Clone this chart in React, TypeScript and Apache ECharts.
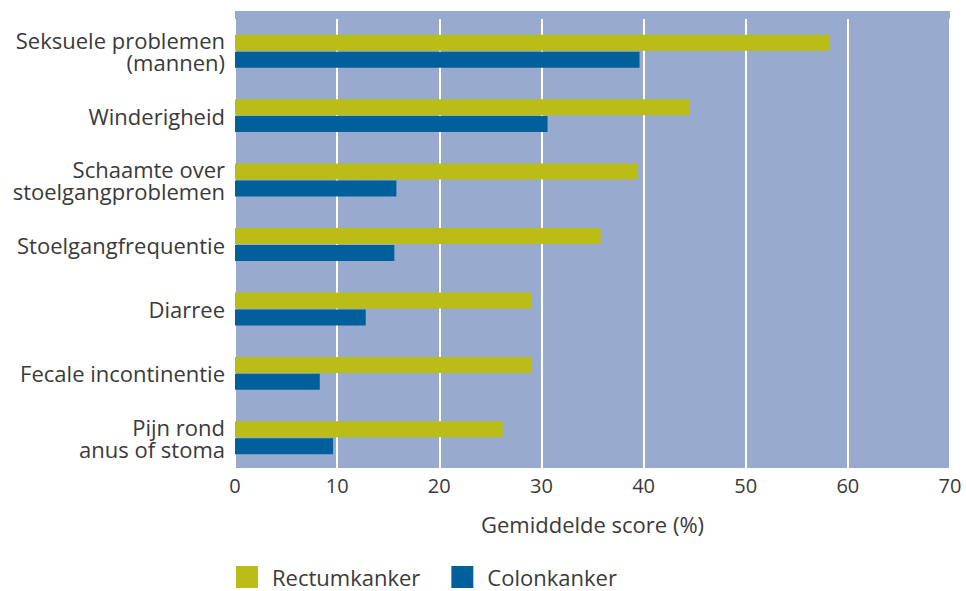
import React, { useEffect, useRef } from "react";
import * as echarts from "echarts";

const categories = [
  "Seksuele problemen\n(mannen)",
  "Winderigheid",
  "Schaamte over\nstoelgangproblemen",
  "Stoelgangfrequentie",
  "Diarree",
  "Fecale incontinentie",
  "Pijn rond\nanus of stoma",
];
const rectumValues = [58.2, 44.5, 39.4, 35.8, 29.0, 29.0, 26.2];
const colonValues = [39.6, 30.6, 15.8, 15.6, 12.8, 8.3, 9.6];
const xTicks = [0, 10, 20, 30, 40, 50, 60, 70];
const seriesNames = ["Rectumkanker", "Colonkanker"];

const FONT = "'Open Sans', 'Noto Sans', sans-serif";
const TEXT = "#3a3a3a";

export default function App() {
  const ref = useRef<HTMLDivElement>(null);
  useEffect(() => {
    if (!ref.current) return;
    const chart = echarts.init(ref.current, undefined, { renderer: "svg" });
    chart.setOption({
      animation: false,
      backgroundColor: "#ffffff",
      graphic: [
        {
          type: "rect",
          z: -10,
          silent: true,
          shape: { x: 235, y: 11, width: 715, height: 457 },
          style: { fill: "#99AACF" },
        },
      ],
      grid: { left: 235, right: 16, top: 19, bottom: 121, containLabel: false },
      legend: {
        left: 236,
        top: 566,
        padding: 0,
        itemWidth: 22,
        itemHeight: 22,
        itemGap: 31,
        icon: "rect",
        textStyle: { fontFamily: FONT, fontSize: 22, lineHeight: 22, color: TEXT, padding: [0, 0, 0, 9] },
        data: seriesNames,
      },
      xAxis: {
        type: "value",
        min: 0,
        max: 70,
        interval: 10,
        name: "Gemiddelde score (%)",
        nameLocation: "middle",
        nameGap: 43,
        nameTextStyle: { fontFamily: FONT, fontSize: 22, color: TEXT },
        axisLine: { show: false },
        axisTick: { show: false },
        axisLabel: {
          fontFamily: FONT,
          fontSize: 20,
          color: TEXT,
          margin: 5,
          formatter: (v: number) => (xTicks.includes(v) ? String(v) : ""),
        },
        splitLine: { show: true, lineStyle: { color: "#ffffff", width: 2 } },
      },
      yAxis: {
        type: "category",
        inverse: true,
        data: categories,
        axisLine: { show: false },
        axisTick: { show: false },
        axisLabel: {
          fontFamily: FONT,
          fontSize: 22,
          color: TEXT,
          margin: 10,
          lineHeight: 22,
          align: "right",
        },
        splitLine: { show: false },
      },
      series: [
        {
          name: seriesNames[0],
          type: "bar",
          data: rectumValues,
          barWidth: 16,
          barGap: "6%",
          itemStyle: { color: "#B9BD16" },
        },
        {
          name: seriesNames[1],
          type: "bar",
          data: colonValues,
          barWidth: 16,
          barGap: "6%",
          itemStyle: { color: "#00609C" },
        },
      ],
    });
    return () => chart.dispose();
  }, []);
  return (
    <div
      ref={ref}
      style={{ position: "fixed", left: 0, top: 0, width: 966, height: 591 }}
    />
  );
}
